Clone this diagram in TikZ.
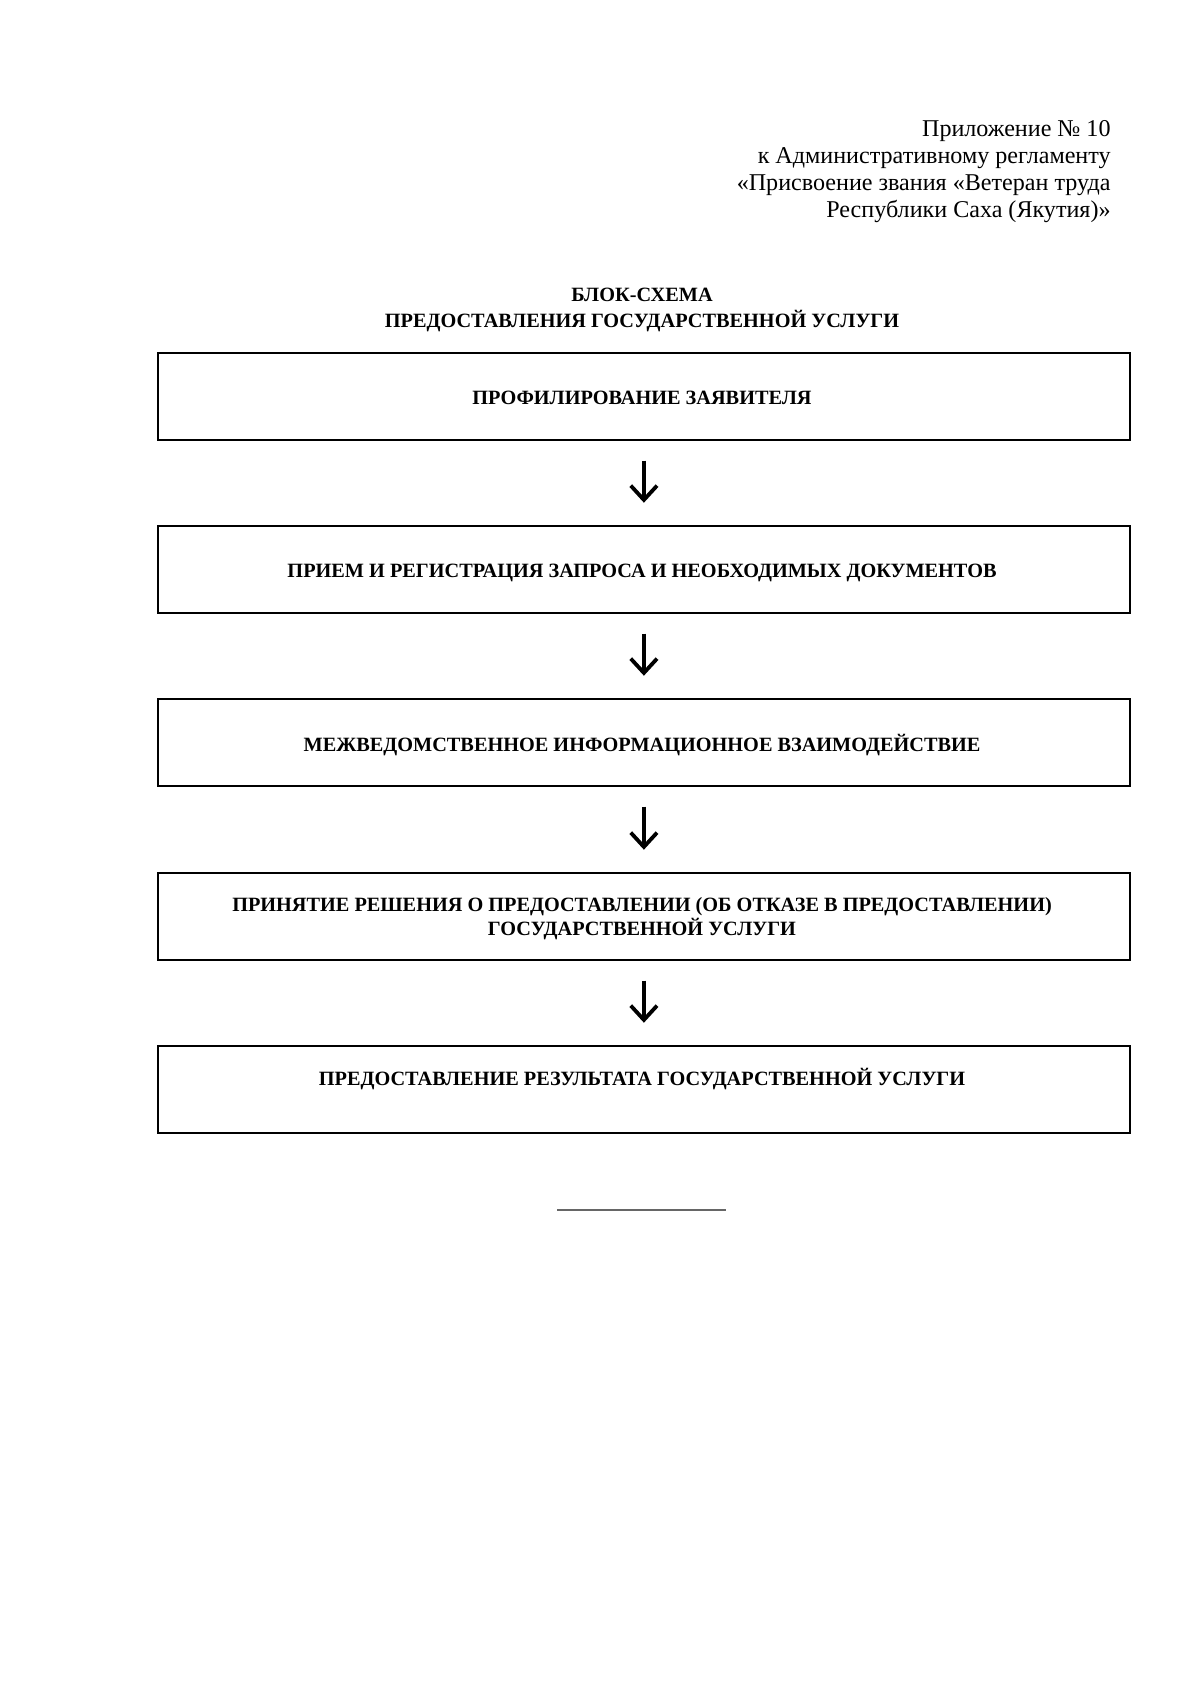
\documentclass[tikz,border=0pt]{standalone}
\usepackage{fontspec}
\setmainfont{Liberation Serif}
\usetikzlibrary{arrows.meta}
\begin{document}
\begin{tikzpicture}[x=0.175mm,y=-0.175mm,
  stepbox/.style={draw=black, line width=0.9pt, minimum width=170.1mm, minimum height=15.2mm, inner sep=0pt, anchor=north west},
  boxtext/.style={anchor=base, inner sep=0pt, font=\fontsize{10.1}{12}\selectfont\bfseries},
  headtext/.style={anchor=base east, inner sep=0pt, font=\fontsize{12}{13.5}\selectfont},
  titletext/.style={anchor=base, inner sep=0pt, font=\fontsize{10.1}{12}\selectfont\bfseries},
  flow/.style={line width=1.9pt, -{Straight Barb[length=2.5mm, width=4.6mm, line width=1.9pt]}, shorten <=3.5mm, shorten >=3.9mm}]
\useasboundingbox (0,0) rectangle (1200,1696);
% header
\node[headtext] (h1) at (1111,136) {Приложение № 10};
\node[headtext] (h2) at (1111,163) {к Административному регламенту};
\node[headtext] (h3) at (1111,190) {«Присвоение звания «Ветеран труда};
\node[headtext] (h4) at (1111,217) {Республики Саха (Якутия)»};
% title
\node[titletext] (t1) at (642,301) {БЛОК-СХЕМА};
\node[titletext] (t2) at (642,327) {ПРЕДОСТАВЛЕНИЯ ГОСУДАРСТВЕННОЙ УСЛУГИ};
% boxes
\node[stepbox] (b1) at (157,352) {};
\node[stepbox] (b2) at (157,525) {};
\node[stepbox] (b3) at (157,698) {};
\node[stepbox] (b4) at (157,872) {};
\node[stepbox] (b5) at (157,1045) {};
% box texts
\node[boxtext] (l1) at (642,404) {ПРОФИЛИРОВАНИЕ ЗАЯВИТЕЛЯ};
\node[boxtext] (l2) at (642,577) {ПРИЕМ И РЕГИСТРАЦИЯ ЗАПРОСА И НЕОБХОДИМЫХ ДОКУМЕНТОВ};
\node[boxtext] (l3) at (642,751) {МЕЖВЕДОМСТВЕННОЕ ИНФОРМАЦИОННОЕ ВЗАИМОДЕЙСТВИЕ};
\node[boxtext] (l4a) at (642,911) {ПРИНЯТИЕ РЕШЕНИЯ О ПРЕДОСТАВЛЕНИИ (ОБ ОТКАЗЕ В ПРЕДОСТАВЛЕНИИ)};
\node[boxtext] (l4b) at (642,935) {ГОСУДАРСТВЕННОЙ УСЛУГИ};
\node[boxtext] (l5) at (642,1085) {ПРЕДОСТАВЛЕНИЕ РЕЗУЛЬТАТА ГОСУДАРСТВЕННОЙ УСЛУГИ};
% arrows
\draw[flow] (b1.south) -- (b2.north);
\draw[flow] (b2.south) -- (b3.north);
\draw[flow] (b3.south) -- (b4.north);
\draw[flow] (b4.south) -- (b5.north);
% closing rule
\draw[black!60, line width=0.6pt] (557,1210) -- (726,1210);
\end{tikzpicture}
\end{document}
